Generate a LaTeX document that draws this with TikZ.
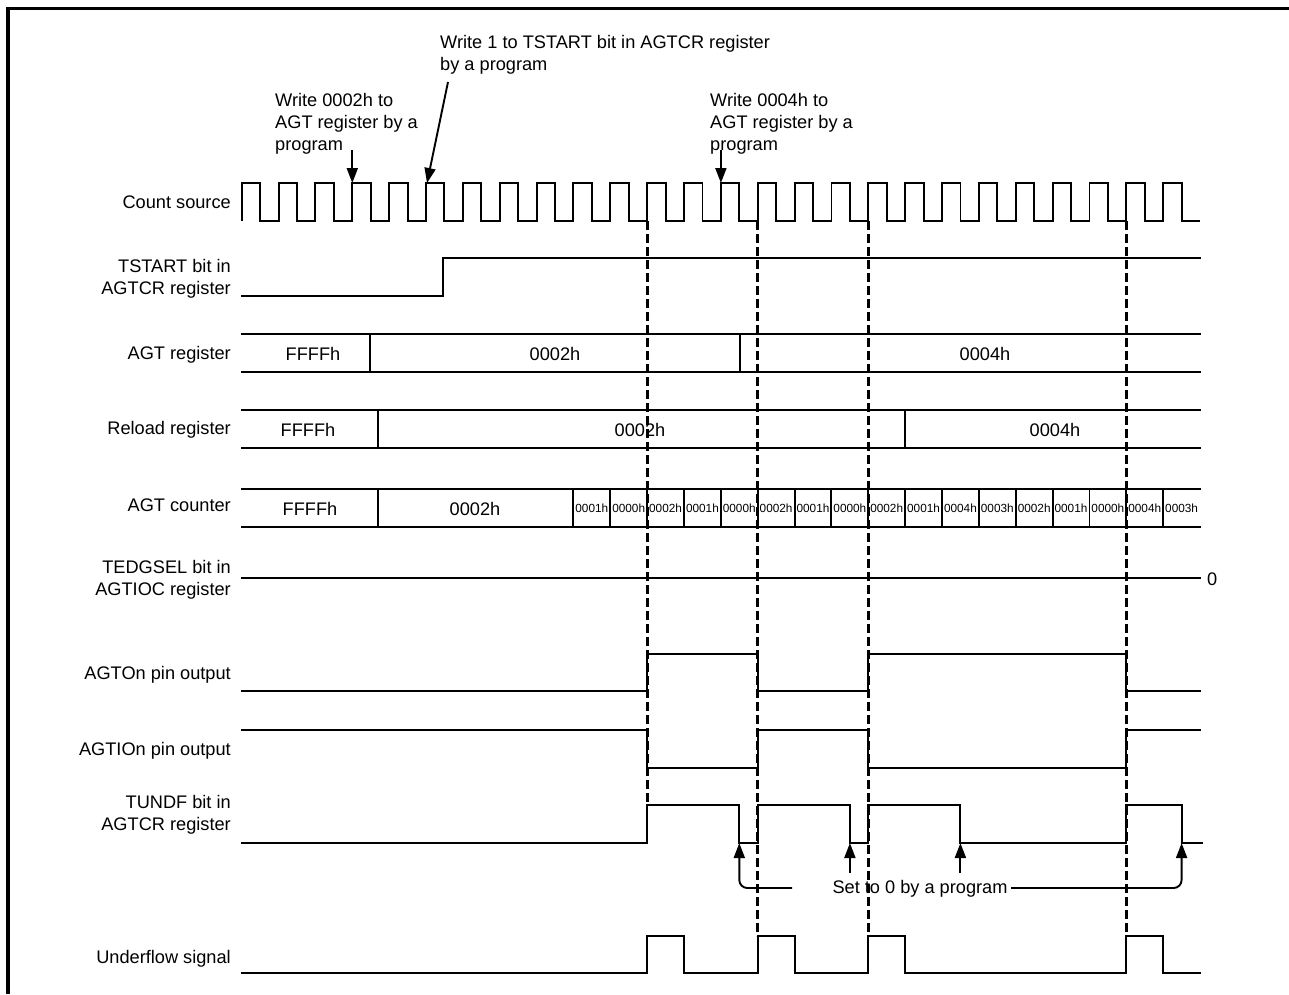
\documentclass[tikz,border=0pt]{standalone}
\usepackage{fontspec}
\setmainfont{Liberation Sans}
\usetikzlibrary{arrows.meta}
\begin{document}
\begin{tikzpicture}[x=1pt,y=-1pt,
  sig/.style={line width=1.9pt, line join=miter},
  lbl/.style={anchor=east, align=right, inner sep=0pt, font=\fontsize{18.2}{22}\selectfont},
  note/.style={anchor=north west, align=left, inner sep=0pt, font=\fontsize{18.2}{22}\selectfont},
  val/.style={inner sep=0pt, font=\fontsize{18.2}{22}\selectfont},
  sval/.style={inner sep=0pt, font=\fontsize{11.8}{14}\selectfont},
  guide/.style={line width=2.8pt, dash pattern=on 9pt off 4pt},
  arr/.style={line width=1.9pt, -{Triangle[length=15pt,width=11pt]}},
]
\useasboundingbox (0,0) rectangle (1289,994);
% frame
\draw[line width=3.8pt] (8,994) -- (8,8.5) -- (1289,8.5);

% row labels
\node[lbl] (lcs) at (231,202) {Count source};
\node[lbl] (lts) at (231,279) {TSTART bit in\\AGTCR register};
\node[lbl] (lagt) at (231,355) {AGT register};
\node[lbl] (lrl) at (231,430) {Reload register};
\node[lbl] (lcnt) at (231,505) {AGT counter};
\node[lbl] (lted) at (231,580) {TEDGSEL bit in\\AGTIOC register};
\node[lbl] (lo) at (231,675) {AGTOn pin output};
\node[lbl] (lio) at (231,751) {AGTIOn pin output};
\node[lbl] (ltu) at (231,815) {TUNDF bit in\\AGTCR register};
\node[lbl] (luf) at (231,959) {Underflow signal};

% dashed guides
\draw[guide] (647.2,221) -- (647.2,805);
\draw[guide] (757.7,221) -- (757.7,936);
\draw[guide] (868.3,221) -- (868.3,936);
\draw[guide] (1126.3,221) -- (1126.3,936);

% count source
\draw[sig] (241.7,221) \foreach \k in {0,...,25} { -- ({241.7+36.86*\k},183) -- ({260.13+36.86*\k},183) -- ({260.13+36.86*\k},221) -- ({278.56+36.86*\k},221) };

% TSTART
\draw[sig] (241,296) -- (443,296) -- (443,258) -- (1201,258);

% AGT register
\draw[sig] (241,334) -- (1201,334) (241,372) -- (1201,372) (370,334) -- (370,372) (740,334) -- (740,372);
\node[val] (ar1) at (313,354) {FFFFh};
\node[val] (ar2) at (555,354) {0002h};
\node[val] (ar3) at (985,354) {0004h};

% Reload register
\draw[sig] (241,410) -- (1201,410) (241,448) -- (1201,448) (378,410) -- (378,448) (905.2,410) -- (905.2,448);
\node[val] (rr1) at (308,430) {FFFFh};
\node[val] (rr2) at (640,430) {0002h};
\node[val] (rr3) at (1055,430) {0004h};

% AGT counter
\draw[sig] (241,489) -- (1201,489) (241,527) -- (1201,527) (378,489) -- (378,527) (573.4,489) -- (573.4,527);
\node[val] (cc1) at (310,509) {FFFFh};
\node[val] (cc2) at (475,509) {0002h};
\foreach \v [count=\i from 0] in {0001h,0000h,0002h,0001h,0000h,0002h,0001h,0000h,0002h,0001h,0004h,0003h,0002h,0001h,0000h,0004h,0003h} {
  \node[sval] (c\i) at ({573.4+36.86*\i+18.43},508) {\v};
  \ifnum\i<16 \draw[sig] ({573.4+36.86*(\i+1)},489) -- ({573.4+36.86*(\i+1)},527); \fi
}

% TEDGSEL
\draw[sig] (241,578) -- (1201,578);
\node[val, anchor=west] (zero) at (1207,579) {0};

% AGTOn
\draw[sig] (241,691) -- (647.2,691) -- (647.2,654) -- (757.7,654) -- (757.7,691) -- (868.3,691) -- (868.3,654) -- (1126.3,654) -- (1126.3,691) -- (1201,691);
% AGTIOn
\draw[sig] (241,730) -- (647.2,730) -- (647.2,768) -- (757.7,768) -- (757.7,730) -- (868.3,730) -- (868.3,768) -- (1126.3,768) -- (1126.3,730) -- (1201,730);
% TUNDF
\draw[sig] (241,843) -- (647.2,843) -- (647.2,805) -- (739.3,805) -- (739.3,843) -- (757.7,843) -- (757.7,805) -- (849.9,805) -- (849.9,843) -- (868.3,843) -- (868.3,805) -- (960.4,805) -- (960.4,843) -- (1126.3,843) -- (1126.3,805) -- (1181.6,805) -- (1181.6,843) -- (1203,843);
% Underflow
\draw[sig] (241,973) -- (647.2,973) -- (647.2,936) -- (684,936) -- (684,973) -- (757.7,973) -- (757.7,936) -- (794.6,936) -- (794.6,973) -- (868.3,973) -- (868.3,936) -- (905.2,936) -- (905.2,973) -- (1126.3,973) -- (1126.3,936) -- (1163.2,936) -- (1163.2,973) -- (1201,973);

% annotations
\node[note] (n1) at (275,93) {Write 0002h to\\AGT register by a\\program};
\node[note] (n2) at (440,35) {Write 1 to TSTART bit in AGTCR register\\by a program};
\node[note] (n3) at (710,93) {Write 0004h to\\AGT register by a\\program};
\coordinate (a1s) at (352.3,150);
\coordinate (a1e) at (352.3,183);
\coordinate (a2s) at (448,82);
\coordinate (a2e) at (427,183);
\coordinate (a3s) at (720.9,150);
\coordinate (a3e) at (720.9,183);
\draw[arr] (a1s) -- (a1e);
\draw[arr] (a2s) -- (a2e);
\draw[arr] (a3s) -- (a3e);

% set to 0
\node[val] (s0) at (920,889) {Set to 0 by a program};
\coordinate (b1) at (792,888);
\coordinate (t1) at (739.3,843);
\coordinate (b2) at (849.9,873);
\coordinate (t2) at (849.9,843);
\coordinate (b3) at (960.4,873);
\coordinate (t3) at (960.4,843);
\coordinate (b4) at (1011,888);
\coordinate (t4) at (1181.6,843);
\draw[arr, rounded corners=8pt] (b1) -| (t1);
\draw[arr] (b2) -- (t2);
\draw[arr] (b3) -- (t3);
\draw[arr, rounded corners=8pt] (b4) -| (t4);
\end{tikzpicture}
\end{document}
